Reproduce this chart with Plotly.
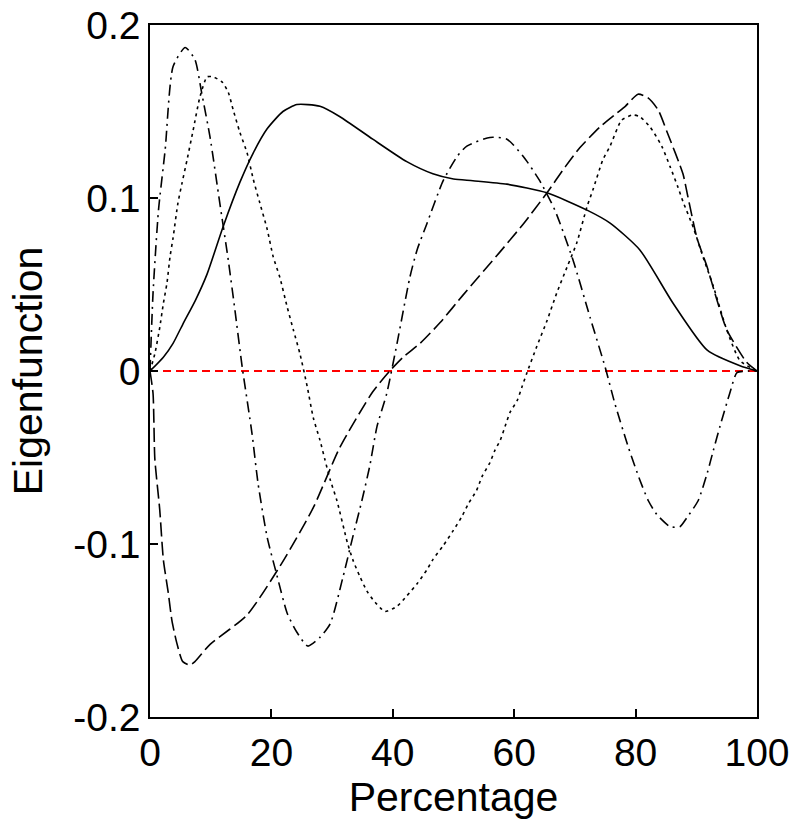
import plotly.graph_objects as go

# ---- data ----
solid_x = [0, 2.2, 3.8, 5.4, 7.5, 9.4, 12, 14.8, 17, 19.3, 21.9, 24.2, 26, 28, 31.3, 36.7,
           42.3, 46.6, 50, 53.2, 58.8, 65.4, 72, 75.8, 80.7, 86.2, 91.8, 97.2, 100]
solid_y = [0, 0.008, 0.016, 0.027, 0.041, 0.056, 0.083, 0.109, 0.126, 0.140, 0.150, 0.154,
           0.154, 0.153, 0.147, 0.134, 0.121, 0.114, 0.111, 0.110, 0.108, 0.103, 0.093,
           0.0855, 0.070, 0.039, 0.012, 0.003, 0]

longdash_x = [0, 0.5, 0.8, 1.6, 2.2, 3.0, 3.6, 4.4, 5.4, 6.6, 7.4, 9.9, 16, 21.9, 26.9, 31.3,
              36.7, 39.5, 41.7, 44.5, 47.8, 51.6, 57.7, 61.5, 65.4, 68.4, 70.8, 74.1, 76.9,
              78.3, 80.4, 82, 83.7, 85.2, 87.8, 88.6, 90.1, 91.8, 93.4, 95, 98.3, 100]
longdash_y = [0, -0.013, -0.051, -0.080, -0.109, -0.128, -0.144, -0.157, -0.168, -0.170,
              -0.168, -0.158, -0.141, -0.110, -0.079, -0.044, -0.012, 0, 0.008, 0.016, 0.028,
              0.044, 0.069, 0.085, 0.103, 0.118, 0.129, 0.141, 0.149, 0.153, 0.160, 0.158,
              0.151, 0.138, 0.114, 0.101, 0.077, 0.060, 0.041, 0.024, 0.005, 0]

dashdot_x = [0, 0.5, 1.4, 2.5, 3.8, 5.8, 7.4, 8.5, 9.9, 11.5, 12.9, 14, 15.2, 16.8, 17.8, 19.3,
             20.9, 22.6, 24.2, 26, 28, 29.7, 31.8, 33.4, 34.9, 36.2, 37.4, 39, 40.7, 42.8, 44,
             45.6, 48.3, 50.6, 52.2, 56, 58.8, 61.5, 64.2, 66.7, 69.7, 72.5, 75, 76.6, 78.8,
             80.7, 82.1, 83.5, 85.7, 87.3, 88.4, 90.3, 91.8, 92.8, 93.9, 95.5, 96.7, 98.5, 100]
dashdot_y = [0, 0.045, 0.093, 0.128, 0.176, 0.187, 0.180, 0.161, 0.135, 0.097, 0.064, 0.035,
             0.002, -0.036, -0.065, -0.096, -0.118, -0.140, -0.151, -0.159, -0.154, -0.146,
             -0.119, -0.096, -0.075, -0.055, -0.032, -0.013, 0.016, 0.054, 0.070, 0.085,
             0.110, 0.124, 0.130, 0.135, 0.134, 0.124, 0.110, 0.093, 0.064, 0.031, 0.002,
             -0.019, -0.044, -0.063, -0.075, -0.083, -0.090, -0.090, -0.085, -0.075, -0.059,
             -0.046, -0.032, -0.013, -0.001, 0.0, 0]

dotted_x = [0, 0.8, 1.6, 2.2, 2.8, 3.3, 3.8, 4.6, 5.3, 6.1, 7.1, 8.2, 9.4, 10.4, 11.9, 12.9,
            13.7, 14.8, 16, 17, 18.1, 19.3, 20.3, 21.4, 22.6, 23.6, 24.7, 25.9, 26.9, 28,
            28.8, 29.7, 30.8, 32.5, 33.4, 34.6, 35.7, 36.7, 38.7, 40.7, 42.3, 44, 45.6, 46.6,
            48.3, 50, 51.4, 52.4, 53.8, 54.7, 56, 56.8, 57.7, 58.5, 59.3, 60.5, 61.3, 62.1,
            63.7, 65.4, 67, 68.7, 70.3, 72, 73, 74.6, 75.8, 77.7, 79.5, 80.7, 82.4, 84.3,
            85.7, 87, 87.8, 89.5, 91.1, 92.8, 95, 97.2, 100]
dotted_y = [0, 0.010, 0.025, 0.039, 0.051, 0.066, 0.077, 0.097, 0.109, 0.122, 0.139, 0.158,
            0.170, 0.170, 0.167, 0.161, 0.151, 0.138, 0.126, 0.111, 0.097, 0.082, 0.066,
            0.054, 0.037, 0.024, 0.010, -0.009, -0.027, -0.040, -0.051, -0.063, -0.075,
            -0.099, -0.109, -0.119, -0.127, -0.132, -0.139, -0.136, -0.130, -0.123, -0.115,
            -0.109, -0.101, -0.092, -0.084, -0.077, -0.069, -0.061, -0.053, -0.046, -0.040,
            -0.032, -0.024, -0.017, -0.009, -0.001, 0.014, 0.029, 0.045, 0.060, 0.074,
            0.095, 0.105, 0.122, 0.130, 0.145, 0.148, 0.147, 0.141, 0.130, 0.118, 0.106,
            0.098, 0.083, 0.066, 0.049, 0.024, 0.006, 0]

zero_x = [0, 100]
zero_y = [0, 0]

x_ticks = [0, 20, 40, 60, 80, 100]
x_tick_labels = ["0", "20", "40", "60", "80", "100"]
y_ticks = [-0.2, -0.1, 0, 0.1, 0.2]
y_tick_labels = ["-0.2", "-0.1", "0", "0.1", "0.2"]

FONT = "Liberation Sans, Arial, sans-serif"

fig = go.Figure()
fig.add_trace(go.Scatter(x=zero_x, y=zero_y, mode="lines",
                         line=dict(color="#ff0000", width=2, dash="8px,5px")))
fig.add_trace(go.Scatter(x=solid_x, y=solid_y, mode="lines",
                         line=dict(color="black", width=1.6, shape="spline", smoothing=0.6)))
fig.add_trace(go.Scatter(x=longdash_x, y=longdash_y, mode="lines",
                         line=dict(color="black", width=1.6, dash="14px,5px",
                                   shape="spline", smoothing=0.6)))
fig.add_trace(go.Scatter(x=dashdot_x, y=dashdot_y, mode="lines",
                         line=dict(color="black", width=1.6, dash="11px,5px,2px,5px",
                                   shape="spline", smoothing=0.6)))
fig.add_trace(go.Scatter(x=dotted_x, y=dotted_y, mode="lines",
                         line=dict(color="black", width=1.6, dash="3px,4px",
                                   shape="spline", smoothing=0.6)))

axis_common = dict(showline=True, mirror=True, linecolor="black", linewidth=1.5,
                   ticks="inside", ticklen=8, tickwidth=1.5, tickcolor="black",
                   showgrid=False, zeroline=False, automargin=False,
                   ticklabeloverflow="allow",
                   tickfont=dict(family=FONT, size=39, color="black"))

fig.update_layout(
    width=800, height=830,
    margin=dict(l=150, r=43, t=25, b=113),
    paper_bgcolor="white", plot_bgcolor="white",
    showlegend=False,
    font=dict(family=FONT, color="black"),
    xaxis=dict(range=[0, 100], tickvals=x_ticks, ticktext=x_tick_labels,
               title=dict(text="Percentage", font=dict(family=FONT, size=41), standoff=8),
               **axis_common),
    yaxis=dict(range=[-0.2, 0.2], tickvals=y_ticks, ticktext=y_tick_labels,
               title=dict(text="Eigenfunction", font=dict(family=FONT, size=41), standoff=18),
               **axis_common),
)

fig.write_html("out.html",
               config={"displayModeBar": False},
               post_script="document.body.style.margin='0px';document.body.style.overflow='hidden';")
